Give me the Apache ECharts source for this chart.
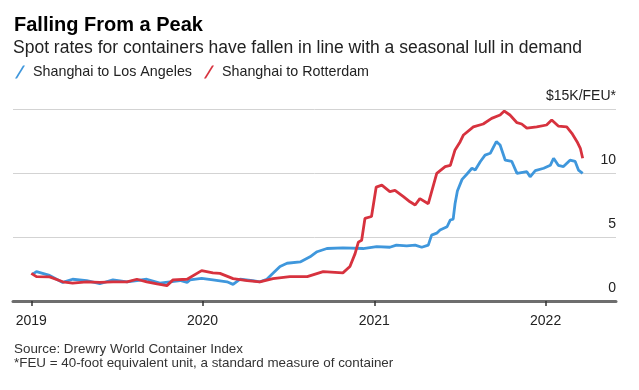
<!DOCTYPE html>
<html>
<head>
<meta charset="utf-8">
<script src="https://cdn.jsdelivr.net/npm/echarts@6/dist/echarts.min.js"></script>
<style>
html,body{margin:0;padding:0;background:#fff;}
#c{width:639px;height:390px;}
</style>
</head>
<body>
<div id="c"></div>
<script>
// ---- Data ----
var laDates = ['2019-01-04','2019-01-12','2019-02-09','2019-03-09','2019-03-30','2019-04-29','2019-05-27','2019-06-24','2019-07-24','2019-09-04','2019-10-02','2019-11-14','2019-11-29','2019-12-05','2019-12-30','2020-01-23','2020-02-22','2020-03-06','2020-03-21','2020-04-17','2020-05-02','2020-05-17','2020-05-30','2020-06-14','2020-06-29','2020-07-27','2020-08-17','2020-09-01','2020-09-22','2020-10-26','2020-12-08','2021-01-06','2021-02-03','2021-02-17','2021-03-11','2021-03-29','2021-04-12','2021-04-26','2021-05-03','2021-05-14','2021-05-21','2021-06-05','2021-06-12','2021-06-18','2021-06-22','2021-06-27','2021-07-07','2021-07-17','2021-07-28','2021-08-04','2021-08-15','2021-08-25','2021-09-05','2021-09-18','2021-09-26','2021-10-07','2021-10-21','2021-11-01','2021-11-22','2021-11-29','2021-12-10','2021-12-28','2022-01-11','2022-01-18','2022-01-28','2022-02-08','2022-02-22','2022-03-05','2022-03-12','2022-03-21'];
var laValues = [2.1,2.3,2.0,1.45,1.7,1.6,1.35,1.65,1.5,1.7,1.4,1.6,1.45,1.65,1.77,1.65,1.5,1.3,1.7,1.6,1.5,1.7,2.16,2.7,2.95,3.05,3.45,3.85,4.1,4.15,4.1,4.25,4.2,4.37,4.3,4.37,4.2,4.37,5.15,5.3,5.55,5.8,6.33,6.4,7.6,8.6,9.5,9.9,10.37,10.23,10.9,11.4,11.54,12.45,12.19,11.0,10.9,9.97,10.1,9.7,10.18,10.37,10.6,11.15,10.6,10.5,11.0,10.9,10.23,9.97];

var rtDates = ['2019-01-01','2019-01-12','2019-02-09','2019-03-09','2019-03-30','2019-04-29','2019-05-27','2019-06-24','2019-07-24','2019-08-14','2019-09-04','2019-09-26','2019-10-17','2019-10-30','2019-11-29','2019-12-30','2020-01-23','2020-02-07','2020-03-06','2020-04-05','2020-05-02','2020-05-30','2020-07-05','2020-08-11','2020-09-14','2020-10-26','2020-11-10','2020-11-21','2020-11-28','2020-12-05','2020-12-12','2020-12-26','2021-01-05','2021-01-17','2021-02-03','2021-02-14','2021-03-04','2021-03-18','2021-03-29','2021-04-08','2021-04-26','2021-05-14','2021-06-01','2021-06-12','2021-06-22','2021-07-03','2021-07-10','2021-07-31','2021-08-21','2021-09-08','2021-09-26','2021-10-05','2021-10-17','2021-11-01','2021-11-11','2021-11-22','2021-12-13','2022-01-03','2022-01-14','2022-01-28','2022-02-15','2022-02-26','2022-03-09','2022-03-16','2022-03-21'];
var rtValues = [2.16,1.9,1.88,1.5,1.4,1.5,1.45,1.5,1.5,1.7,1.5,1.33,1.2,1.65,1.7,2.37,2.2,2.16,1.75,1.6,1.5,1.75,1.9,1.9,2.3,2.2,2.7,3.7,4.6,4.75,6.45,6.6,8.9,9.05,8.55,8.65,8.15,7.75,7.5,8.0,7.6,9.97,10.5,10.6,11.8,12.45,12.97,13.6,13.83,14.27,14.53,14.84,14.53,13.93,13.83,13.5,13.6,13.75,14.14,13.67,13.6,13.1,12.45,11.93,11.15];

var seriesNames = ['Shanghai to Los Angeles', 'Shanghai to Rotterdam'];
var yearTicks = ['2019-01-01','2020-01-01','2021-01-01','2022-01-01'];
var yTopLabel = '$15K/FEU*';

function ts(s){ return Date.parse(s + 'T00:00:00Z'); }
function pairs(d, v){ return d.map(function(x,i){ return [ts(x), v[i]]; }); }
var yearTs = yearTicks.map(ts);

var BLUE = '#3f97dc', RED = '#d7323e';
var FONT = '"Liberation Sans", Arial, sans-serif';
var slash = 'path://M0,13 L2,13 L10,0 L8,0 Z';

var chart = echarts.init(document.getElementById('c'), null, {renderer:'canvas'});
chart.setOption({
  backgroundColor: '#fff',
  animation: false,
  textStyle: {fontFamily: FONT},
  title: [
    {text: 'Falling From a Peak', left: 9, top: 10,
     textStyle: {fontSize: 20, fontWeight: 'bold', color: '#000', fontFamily: FONT}},
    {text: 'Spot rates for containers have fallen in line with a seasonal lull in demand', left: 8, top: 34,
     textStyle: {fontSize: 17.5, fontWeight: 'normal', color: '#222', fontFamily: FONT}},
    {text: 'Source: Drewry World Container Index', left: 9, top: 338,
     textStyle: {fontSize: 13.4, fontWeight: 'normal', color: '#333', fontFamily: FONT}},
    {text: '*FEU = 40-foot equivalent unit, a standard measure of container', left: 9, top: 352,
     textStyle: {fontSize: 13.4, fontWeight: 'normal', color: '#333', fontFamily: FONT}}
  ],
  legend: {
    left: 15, top: 65, padding: 0, itemWidth: 10, itemHeight: 13, itemGap: 12,
    textStyle: {fontSize: 14.3, color: '#222', fontFamily: FONT, padding: [0,0,0,3]},
    data: [{name: seriesNames[0], icon: slash}, {name: seriesNames[1], icon: slash}]
  },
  grid: {left: 13, right: 23, top: 109, bottom: 89},
  xAxis: {
    type: 'value',
    min: ts('2018-11-23'), max: ts('2022-05-31'),
    axisLine: {show: true, onZero: false, lineStyle: {color: '#6e6e6e', width: 3}},
    axisTick: {show: true, customValues: yearTs, length: 5, lineStyle: {color: '#333', width: 1.5}},
    axisLabel: {customValues: yearTs, margin: 13, fontSize: 14, color: '#222', fontFamily: FONT,
      formatter: function(v){ return String(new Date(v).getUTCFullYear()); }},
    splitLine: {show: false}
  },
  yAxis: {
    type: 'value', position: 'right', min: 0, max: 15, interval: 5,
    axisLine: {show: false}, axisTick: {show: false},
    splitLine: {show: true, lineStyle: {color: '#d3d3d3', width: 1}},
    axisLabel: {inside: true, margin: 0, fontSize: 14, color: '#222', fontFamily: FONT,
      verticalAlign: 'bottom', padding: [0,0,6,0],
      formatter: function(v){ return v === 15 ? yTopLabel : String(v); }}
  },
  series: [
    {name: seriesNames[0], type: 'line', data: pairs(laDates, laValues), showSymbol: false,
     color: BLUE, lineStyle: {color: BLUE, width: 2.8}, z: 3},
    {name: seriesNames[1], type: 'line', data: pairs(rtDates, rtValues), showSymbol: false,
     color: RED, lineStyle: {color: RED, width: 2.8}, z: 4}
  ]
});
</script>
</body>
</html>
